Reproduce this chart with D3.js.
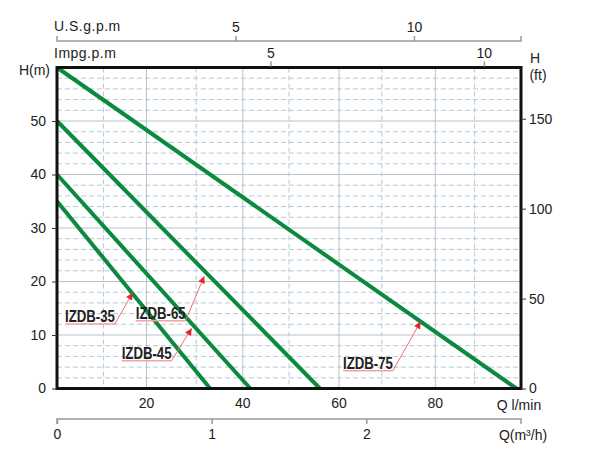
<!DOCTYPE html>
<html>
<head>
<meta charset="utf-8">
<script src="https://cdn.jsdelivr.net/npm/d3@7"></script>
<style>
  html, body { margin: 0; padding: 0; background: #fff; }
  text { font-family: "Liberation Sans", Arial, sans-serif; fill: #222; }
</style>
</head>
<body>
<svg id="chart" width="600" height="468"></svg>
<script>
// ---------- data (flow in m3/h, head in m) ----------
const pumpNames   = ["IZDB-35", "IZDB-45", "IZDB-65", "IZDB-75"];
const shutoffHead = [35, 40, 50, 60];          // H at Q = 0
const maxFlow     = [0.99, 1.25, 1.70, 2.97];  // Q at H = 0 (m3/h)

// annotation read-offs: arrow tip (Q, H) and label anchor (Q, H)
const tipFlow   = [0.489, 0.871, 0.952, 2.351];
const tipHead   = [17.9, 11.25, 21.0, 12.5];
const labelFlow = [0.052, 0.418, 0.509, 1.849];
const labelHead = [12.06, 5.2, 12.67, 3.33];

// axis ticks
const headTicksM   = [0, 10, 20, 30, 40, 50];
const headTicksFt  = [0, 50, 100, 150];
const lpmTicks     = [20, 40, 60, 80];
const m3hTicks     = [0, 1, 2];
const usgpmTicks   = [5, 10];
const impgpmTicks  = [5, 10];
const dashedFlowGrid = [0.3, 0.9, 1.5, 2.1, 2.7];   // m3/h
const dashedHeadGrid = d3.range(2, 60, 2).filter(v => v % 10 !== 0);
const solidHeadGrid  = [10, 20, 30, 40, 50];

// ---------- layout ----------
const L = 57, R = 521, T = 67.5, B = 388.5;
const svg = d3.select("#chart");

const x      = d3.scaleLinear().domain([0, 3]).range([L, R]);        // m3/h
const xLpm   = d3.scaleLinear().domain([1.4, 97.8]).range([L, R]);   // printed l/min scale
const xUs    = d3.scaleLinear().domain([0, 13]).range([L, R]);
const xImp   = d3.scaleLinear().domain([0, 10.87]).range([L, R]);
const y      = d3.scaleLinear().domain([0, 60]).range([B, T]);
const yFt    = d3.scaleLinear().domain([0, 178.5]).range([B, T]);

const green = "#0b8a3e";

// ---------- grid ----------
const grid = svg.append("g");
grid.selectAll(".hd").data(dashedHeadGrid).join("line")
  .attr("x1", L).attr("x2", R).attr("y1", d => y(d)).attr("y2", d => y(d))
  .attr("stroke", "#b4c8d8").attr("stroke-width", 1).attr("stroke-dasharray", "5,3");
grid.selectAll(".hs").data(solidHeadGrid).join("line")
  .attr("x1", L).attr("x2", R).attr("y1", d => y(d)).attr("y2", d => y(d))
  .attr("stroke", "#b9c3cb").attr("stroke-width", 1);
grid.selectAll(".vd").data(dashedFlowGrid).join("line")
  .attr("y1", T).attr("y2", B).attr("x1", d => x(d)).attr("x2", d => x(d))
  .attr("stroke", "#b4c8d8").attr("stroke-width", 1).attr("stroke-dasharray", "5,3");
grid.selectAll(".vs").data(lpmTicks).join("line")
  .attr("y1", T).attr("y2", B).attr("x1", d => xLpm(d)).attr("x2", d => xLpm(d))
  .attr("stroke", "#b9c3cb").attr("stroke-width", 1);

// ---------- curves ----------
const lineGen = d3.line().x(d => x(d[0])).y(d => y(d[1]));
const curves = pumpNames.map((n, i) => [[0, shutoffHead[i]], [maxFlow[i], 0]]);
svg.append("g").selectAll("path").data(curves).join("path")
  .attr("d", lineGen).attr("fill", "none")
  .attr("stroke", green).attr("stroke-width", 4);

// ---------- frame ----------
svg.append("rect").attr("x", L).attr("y", T).attr("width", R - L).attr("height", B - T)
  .attr("fill", "none").attr("stroke", "#111").attr("stroke-width", 3);

// ---------- left axis (m) ----------
const left = svg.append("g").attr("transform", `translate(${L},0)`)
  .call(d3.axisLeft(y).tickValues(headTicksM).tickSize(5).tickPadding(6));
left.select(".domain").remove();
left.selectAll(".tick line").attr("stroke", "#333");
left.selectAll("text").style("font-size", "14px").attr("fill", "#222");
svg.append("text").attr("x", 50).attr("y", 75).attr("text-anchor", "end")
  .style("font-size", "14px").text("H(m)");

// ---------- right axis (ft) ----------
const right = svg.append("g").attr("transform", `translate(${R},0)`)
  .call(d3.axisRight(yFt).tickValues(headTicksFt).tickSize(5).tickPadding(3));
right.select(".domain").remove();
right.selectAll(".tick line").attr("stroke", "#333");
right.selectAll("text").style("font-size", "14px").attr("fill", "#222");
svg.append("text").attr("x", 535).attr("y", 63).attr("text-anchor", "middle")
  .style("font-size", "14px").text("H");
svg.append("text").attr("x", 538).attr("y", 80).attr("text-anchor", "middle")
  .style("font-size", "14px").text("(ft)");

// ---------- bottom: l/min labels ----------
svg.append("g").selectAll("text").data(lpmTicks).join("text")
  .attr("x", d => xLpm(d)).attr("y", 408).attr("text-anchor", "middle")
  .style("font-size", "14px").text(d => d);
svg.append("text").attr("x", 519).attr("y", 410).attr("text-anchor", "middle")
  .style("font-size", "14px").text("Q l/min");

// ---------- bottom: m3/h axis ----------
const m3 = svg.append("g").attr("transform", "translate(0,419)")
  .call(d3.axisBottom(x).tickValues(m3hTicks).tickSize(5).tickPadding(5)
        .tickFormat(d3.format("d")));
m3.select(".domain").attr("stroke", "#999").attr("stroke-width", 1.5)
  .attr("d", `M${L},${5}V0H${R}V${5}`);
m3.selectAll(".tick line").attr("stroke", "#999").attr("stroke-width", 1.5);
m3.selectAll("text").style("font-size", "14px").attr("fill", "#222");
svg.append("text").attr("x", 523).attr("y", 440).attr("text-anchor", "middle")
  .style("font-size", "14px").text("Q(m³/h)");

// ---------- top: US gpm axis ----------
const us = svg.append("g").attr("transform", "translate(0,41)")
  .call(d3.axisTop(xUs).tickValues(usgpmTicks).tickSize(5).tickPadding(4));
us.select(".domain").attr("stroke", "#999").attr("stroke-width", 1.5)
  .attr("d", `M${L},-5V0H${R}V-5`);
us.selectAll(".tick line").attr("stroke", "#999").attr("stroke-width", 1.5);
us.selectAll("text").style("font-size", "14px").attr("fill", "#222");
svg.append("text").attr("x", 54).attr("y", 31).style("font-size", "14px")
  .style("letter-spacing", "0.5px").text("U.S.g.p.m");

// ---------- top: Imp gpm ticks on frame ----------
const imp = svg.append("g").attr("transform", `translate(0,${T - 1})`)
  .call(d3.axisTop(xImp).tickValues(impgpmTicks).tickSize(5).tickPadding(4));
imp.select(".domain").remove();
imp.selectAll(".tick line").attr("stroke", "#999").attr("stroke-width", 1.5);
imp.selectAll("text").style("font-size", "14px").attr("fill", "#222");
svg.append("text").attr("x", 54).attr("y", 58).style("font-size", "14px")
  .style("letter-spacing", "0.5px").text("Impg.p.m");

// ---------- annotations ----------
const defs = svg.append("defs");
defs.append("marker").attr("id", "arr").attr("viewBox", "0 0 10 10")
  .attr("refX", 10).attr("refY", 5).attr("markerWidth", 9).attr("markerHeight", 7)
  .attr("markerUnits", "userSpaceOnUse").attr("orient", "auto")
  .append("path").attr("d", "M0,0L10,5L0,10z").attr("fill", "#e8232b");

const ann = svg.append("g");
pumpNames.forEach((name, i) => {
  const ax = x(labelFlow[i]), ay = y(labelHead[i]);
  const t = ann.append("text")
    .attr("transform", `translate(${ax},${ay - 2}) scale(0.8,1)`)
    .style("font-size", "16.5px").style("font-weight", "bold").attr("fill", "#1a1a1a")
    .text(name);
  const w = t.node().getComputedTextLength() * 0.8;
  ann.append("line").attr("x1", ax).attr("x2", ax + w).attr("y1", ay).attr("y2", ay)
    .attr("stroke", "#f4a3a3").attr("stroke-width", 1.5);
  ann.append("line").attr("x1", ax + w).attr("y1", ay)
    .attr("x2", x(tipFlow[i])).attr("y2", y(tipHead[i]))
    .attr("stroke", "#ef6f6f").attr("stroke-width", 1)
    .attr("marker-end", "url(#arr)");
});
</script>
</body>
</html>
